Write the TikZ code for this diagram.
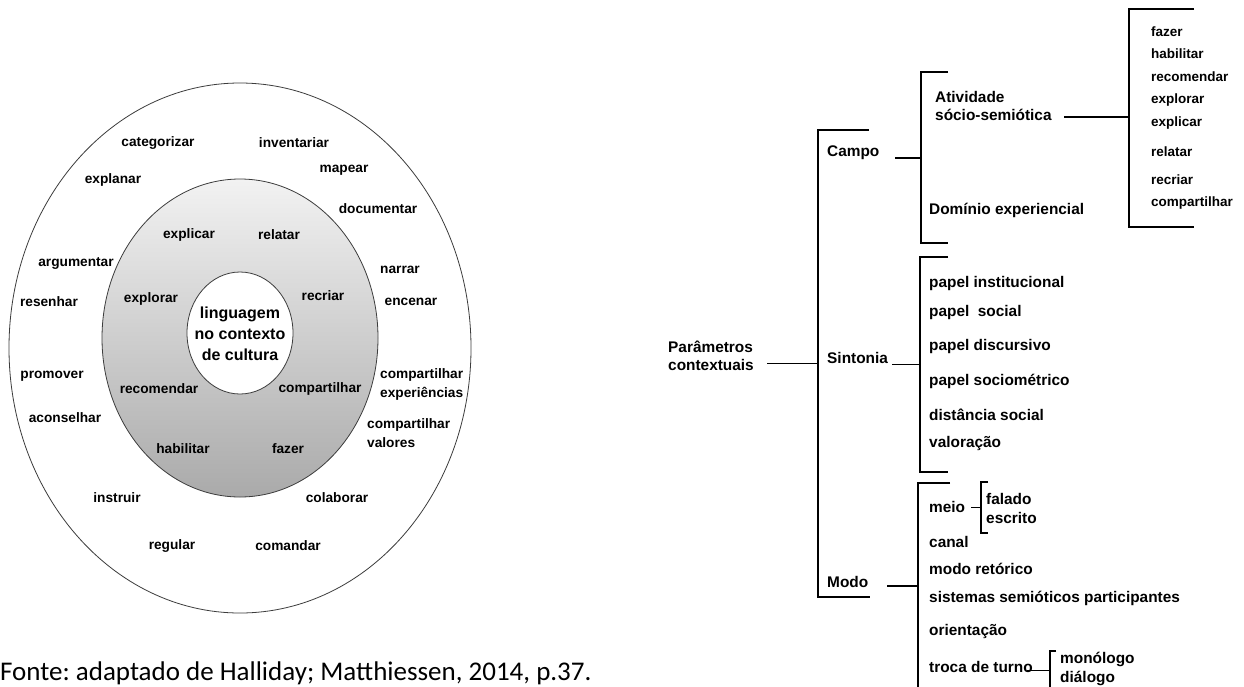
\documentclass[tikz,border=0pt]{standalone}
\usepackage{fontspec}
\setmainfont{Liberation Sans}
\newfontfamily\fontefam{Carlito}
\frenchspacing
\tikzset{
  ring/.style={font=\fontsize{13.7}{19}\selectfont\bfseries, inner sep=0pt, align=center},
  ringl/.style={font=\fontsize{13.7}{19}\selectfont\bfseries, inner sep=0pt, align=left, anchor=west},
  ctr/.style={font=\fontsize{16}{21}\selectfont\bfseries, inner sep=0pt, align=center},
  lbl/.style={font=\fontsize{15.4}{18}\selectfont\bfseries, inner sep=0pt, align=left, anchor=west},
  sml/.style={font=\fontsize{13.5}{16}\selectfont\bfseries, inner sep=0pt, anchor=west},
  br/.style={line width=1.8pt},
  brs/.style={line width=1.3pt},
  thinln/.style={line width=1pt},
  ringline/.style={draw={rgb,255:red,60;green,60;blue,60}, line width=0.8pt}
}
\begin{document}
\begin{tikzpicture}[x=1pt,y=-1pt]
\useasboundingbox (0,0) rectangle (1244,686);
\fill[white] (0,0) rectangle (1244,686);

% ---------- left diagram ----------
\draw[ringline] (240,348) ellipse [x radius=231pt, y radius=265pt];
\shade[top color={rgb,255:red,242;green,242;blue,242}, bottom color={rgb,255:red,170;green,170;blue,170}, ringline]
  (240,338) ellipse [x radius=138pt, y radius=159pt];
\filldraw[fill=white, ringline] (240,333) ellipse [x radius=53pt, y radius=61pt];

\node[ctr] (centro) at (240,334) {linguagem\\no contexto\\de cultura};

\node[ring] (categorizar) at (158,143) {categorizar};
\node[ring] (inventariar) at (294,143) {inventariar};
\node[ring] (mapear) at (344,170) {mapear};
\node[ring] (explanar) at (113,180) {explanar};
\node[ring] (documentar) at (378,209) {documentar};
\node[ring] (explicar) at (189,235) {explicar};
\node[ring] (relatar) at (279,235) {relatar};
\node[ring] (argumentar) at (76,263) {argumentar};
\node[ring] (narrar) at (400,270) {narrar};
\node[ring] (resenhar) at (49,302) {resenhar};
\node[ring] (explorar) at (151,299) {explorar};
\node[ring] (recriar) at (323,296) {recriar};
\node[ring] (encenar) at (411,302) {encenar};
\node[ring] (promover) at (52,376) {promover};
\node[ring] (recomendar) at (159,389) {recomendar};
\node[ring] (compartilharI) at (320,389) {compartilhar};
\node[ringl] (compExp) at (380,384) {compartilhar\\experiências};
\node[ring] (aconselhar) at (65,418) {aconselhar};
\node[ringl] (compVal) at (367,433) {compartilhar\\valores};
\node[ring] (habilitar) at (183,449) {habilitar};
\node[ring] (fazer) at (288,449) {fazer};
\node[ring] (instruir) at (117,498) {instruir};
\node[ring] (colaborar) at (337,498) {colaborar};
\node[ring] (regular) at (172,546) {regular};
\node[ring] (comandar) at (288,546) {comandar};

\node[font=\fontefam\fontsize{27}{31}\selectfont, inner sep=0pt, anchor=base west] (fonte) at (0,680)
  {Fonte: adaptado de Halliday; Matthiessen, 2014, p.37.};

% ---------- right diagram ----------
\node[lbl] (param) at (668,356) {Parâmetros\\contextuais};
\node[lbl] (campo) at (827,153) {Campo};
\node[lbl] (sintonia) at (827,358) {Sintonia};
\node[lbl] (modo) at (827,582) {Modo};

\node[lbl] (ativ) at (935,106) {Atividade\\sócio-semiótica};
\node[lbl] (dominio) at (929,210) {Domínio experiencial};

\node[sml] (w1) at (1151,32) {fazer};
\node[sml] (w2) at (1151,54) {habilitar};
\node[sml] (w3) at (1151,77) {recomendar};
\node[sml] (w4) at (1151,100) {explorar};
\node[sml] (w5) at (1151,123) {explicar};
\node[sml] (w6) at (1151,152) {relatar};
\node[sml] (w7) at (1151,180) {recriar};
\node[sml] (w8) at (1151,203) {compartilhar};

\node[lbl] (s1) at (929,284) {papel institucional};
\node[lbl] (s2) at (929,313) {papel\hspace{0.55em}social};
\node[lbl] (s3) at (929,347) {papel discursivo};
\node[lbl] (s4) at (929,381) {papel sociométrico};
\node[lbl] (s5) at (929,415) {distância social};
\node[lbl] (s6) at (929,444) {valoração};

\node[lbl] (meio) at (929,507) {meio};
\node[lbl] (falado) at (986,499) {falado};
\node[lbl] (escrito) at (986,518) {escrito};
\node[lbl] (canal) at (929,542) {canal};
\node[lbl] (retorico) at (929,569) {modo retórico};
\node[lbl] (sistemas) at (929,598) {sistemas semióticos participantes};
\node[lbl] (orient) at (929,632) {orientação};
\node[lbl] (troca) at (929,667) {troca de turno};
\node[lbl] (mono) at (1060,659) {monólogo};
\node[lbl] (dialogo) at (1060,678) {diálogo};

% coordinates of bracket ends and junctions
\coordinate (pL) at (767,363);
\coordinate (pJ) at (818,363);
\coordinate (mainTop) at (818,130);
\coordinate (mainTopEnd) at (869,130);
\coordinate (mainBot) at (818,597);
\coordinate (mainBotEnd) at (870,597);

\coordinate (cL) at (895,158);
\coordinate (cJ) at (921,158);
\coordinate (cTop) at (921,72);
\coordinate (cTopEnd) at (948,72);
\coordinate (cBot) at (921,243);
\coordinate (cBotEnd) at (948,243);

\coordinate (aL) at (1064,117);
\coordinate (aJ) at (1129,117);
\coordinate (aTop) at (1129,9);
\coordinate (aTopEnd) at (1194,9);
\coordinate (aBot) at (1129,227);
\coordinate (aBotEnd) at (1194,227);

\coordinate (sL) at (892,364);
\coordinate (sJ) at (920,364);
\coordinate (sTop) at (920,257);
\coordinate (sTopEnd) at (948,257);
\coordinate (sBot) at (920,472);
\coordinate (sBotEnd) at (948,472);

\coordinate (mL) at (887,586);
\coordinate (mJ) at (918,586);
\coordinate (mTop) at (918,483);
\coordinate (mTopEnd) at (950,483);
\coordinate (mBot) at (918,690);

\coordinate (meL) at (971,507);
\coordinate (meJ) at (981,507);
\coordinate (meTop) at (981,482);
\coordinate (meTopEnd) at (988,482);
\coordinate (meBot) at (981,533);
\coordinate (meBotEnd) at (988,533);

\coordinate (tL) at (1027,670);
\coordinate (tJ) at (1050,670);
\coordinate (tTop) at (1050,651);
\coordinate (tTopEnd) at (1056,651);
\coordinate (tBot) at (1050,690);

\draw[thinln] (pL) -- (pJ);
\draw[br] (mainTopEnd) -- (mainTop) -- (mainBot) -- (mainBotEnd);

\draw[br] (cL) -- (cJ);
\draw[br] (cTopEnd) -- (cTop) -- (cBot) -- (cBotEnd);

\draw[brs] (aL) -- (aJ);
\draw[br] (aTopEnd) -- (aTop) -- (aBot) -- (aBotEnd);

\draw[thinln] (sL) -- (sJ);
\draw[br] (sTopEnd) -- (sTop) -- (sBot) -- (sBotEnd);

\draw[brs] (mL) -- (mJ);
\draw[br] (mTopEnd) -- (mTop) -- (mBot);

\draw[thinln] (meL) -- (meJ);
\draw[brs] (meTopEnd) -- (meTop) -- (meBot) -- (meBotEnd);

\draw[thinln] (tL) -- (tJ);
\draw[brs] (tTopEnd) -- (tTop) -- (tBot);
\end{tikzpicture}
\end{document}
